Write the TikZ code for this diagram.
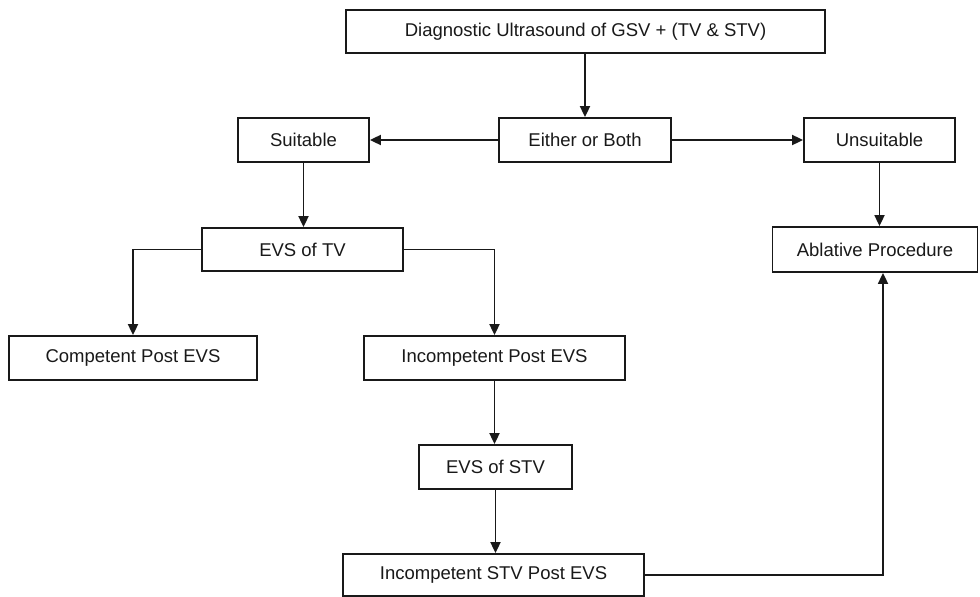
\documentclass[tikz,border=0pt]{standalone}
\usepackage{fontspec}
\setmainfont{Liberation Sans}
\usetikzlibrary{arrows.meta}
\begin{document}
\begin{tikzpicture}[x=1pt,y=-1pt,
  box/.style={draw=black!90, line width=1.8pt, fill=white, inner sep=0pt, minimum height=44pt,
    font=\fontsize{18.5pt}{22pt}\selectfont, text=black!90},
  arr/.style={draw=black!90, line width=1.8pt, -{Triangle[length=11pt,width=10pt]}},
  link/.style={draw=black!90, line width=1.8pt}]
\useasboundingbox (0,0) rectangle (980,597);
\node[box, minimum width=479pt, minimum height=43pt] (top) at (585.5,31.5) {Diagnostic Ultrasound of GSV + (TV \& STV)};
\node[box, minimum width=172pt] (either) at (585,140) {Either or Both};
\node[box, minimum width=131pt] (suitable) at (303.5,140) {Suitable};
\node[box, minimum width=151pt] (unsuitable) at (879.5,140) {Unsuitable};
\node[box, minimum width=201pt, minimum height=43pt] (evstv) at (302.5,249.5) {EVS of TV};
\node[box, minimum width=205pt, minimum height=45pt] (ablative) at (875,249.5) {Ablative Procedure};
\node[box, minimum width=248pt] (competent) at (133,358) {Competent Post EVS};
\node[box, minimum width=261pt] (incompetent) at (494.5,358) {Incompetent Post EVS};
\node[box, minimum width=153pt] (evsstv) at (495.5,467) {EVS of STV};
\node[box, minimum width=301pt, minimum height=42pt] (incstv) at (493.5,575) {Incompetent STV Post EVS};
\draw[arr] (top.south -| either.north) -- (either.north);
\draw[arr] (either.west) -- (suitable.east);
\draw[arr] (either.east) -- (unsuitable.west);
\draw[arr] (suitable.south) -- (suitable.south |- evstv.north);
\draw[arr] (unsuitable.south) -- (unsuitable.south |- ablative.north);
\draw[arr] (evstv.west) -| (competent.north);
\draw[arr] (evstv.east) -| (incompetent.north);
\draw[arr] (incompetent.south) -- (incompetent.south |- evsstv.north);
\draw[arr] (evsstv.south) -- (evsstv.south |- incstv.north);
\draw[arr] (incstv.east) -| ([xshift=8pt]ablative.south);
\end{tikzpicture}
\end{document}
